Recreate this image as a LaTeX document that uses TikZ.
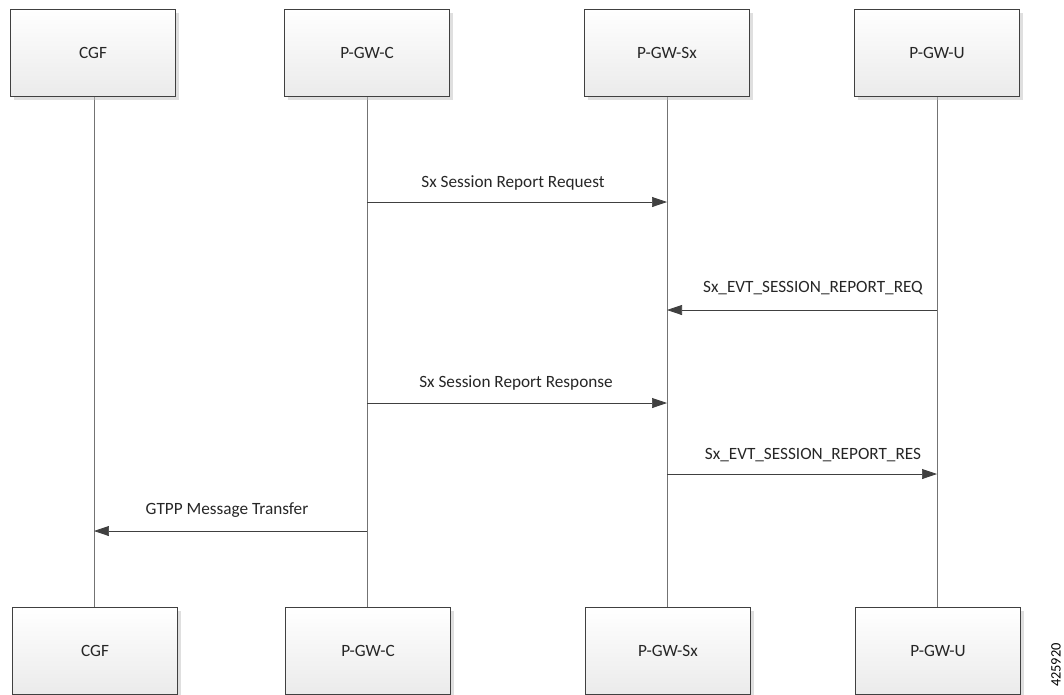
\documentclass[tikz,border=0pt]{standalone}
\usepackage{fontspec}
\setmainfont{Carlito}
\usetikzlibrary{arrows.meta,shadows}

\tikzstyle{entidad}= [rectangle,draw=black!75,thin,top color=white,bottom color=black!8,
  drop shadow={shadow xshift=2pt,shadow yshift=-2pt,fill=black!25},
  minimum width=3.3cm,minimum height=1.74cm,font=\fontsize{9.8}{12}\selectfont,text=black!85]
\tikzstyle{vida}= [draw=black!55,thin]
\tikzstyle{mensaje}= [draw=black!75,thin,-{Triangle[length=0.3cm,width=0.2cm]}]
\tikzstyle{etiqueta}= [font=\fontsize{9.8}{12}\selectfont,text=black!85]

\begin{document}
\begin{tikzpicture}[x=0.02cm,y=-0.02cm]
		\useasboundingbox (0,0) rectangle (1064,694);

		% lifelines first, boxes on top
		\coordinate (cgfl) at (94,96);
		\coordinate (pgwcl) at (367,96);
		\coordinate (pgwsxl) at (667,96);
		\coordinate (pgwul) at (937,96);

		\draw[vida] (cgfl) -- (cgfl |- 0,608);
		\draw[vida] (pgwcl) -- (pgwcl |- 0,608);
		\draw[vida] (pgwsxl) -- (pgwsxl |- 0,608);
		\draw[vida] (pgwul) -- (pgwul |- 0,608);

		\node (cgf) at (93,52.5) [entidad] {CGF};
		\node (pgwc) at (367,52.5) [entidad] {P-GW-C};
		\node (pgwsx) at (667,52.5) [entidad] {P-GW-Sx};
		\node (pgwu) at (937,52.5) [entidad] {P-GW-U};

		\node (cgfb) at (95,651) [entidad] {CGF};
		\node (pgwcb) at (368,651) [entidad] {P-GW-C};
		\node (pgwsxb) at (668,651) [entidad] {P-GW-Sx};
		\node (pgwub) at (938,651) [entidad] {P-GW-U};

		% messages
		\draw[mensaje] (pgwcl |- 0,202) -- (pgwsxl |- 0,202);
		\node (m1) at (513,183) [etiqueta] {Sx Session Report Request};

		\draw[mensaje] (pgwul |- 0,310) -- (pgwsxl |- 0,310);
		\node (m2) at (813,288) [etiqueta] {Sx\_EVT\_SESSION\_REPORT\_REQ};

		\draw[mensaje] (pgwcl |- 0,403) -- (pgwsxl |- 0,403);
		\node (m3) at (516,383) [etiqueta] {Sx Session Report Response};

		\draw[mensaje] (pgwsxl |- 0,474) -- (pgwul |- 0,474);
		\node (m4) at (813,455) [etiqueta] {Sx\_EVT\_SESSION\_REPORT\_RES};

		\draw[mensaje] (pgwcl |- 0,531) -- (cgfl |- 0,531);
		\node (m5) at (227,510) [etiqueta] {GTPP Message Transfer};

		\node (num) at (1056,665) [rotate=90,font=\fontsize{8.2}{10}\selectfont] {425920};

	\end{tikzpicture}
\end{document}
